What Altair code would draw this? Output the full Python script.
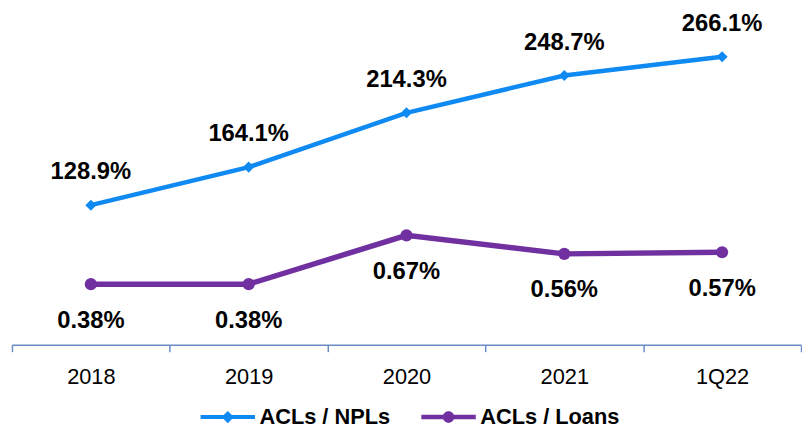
import altair as alt
import pandas as pd

categories = ["2018", "2019", "2020", "2021", "1Q22"]
npl_values = [128.9, 164.1, 214.3, 248.7, 266.1]
loan_values = [0.38, 0.38, 0.67, 0.56, 0.57]
series_names = ["ACLs / NPLs", "ACLs / Loans"]
series_colors = ["#0F8AF2", "#7030A0"]

df = pd.DataFrame({
    "period": categories * 2,
    "series": [series_names[0]] * len(categories) + [series_names[1]] * len(categories),
    "value": npl_values + loan_values,
})

FONT = "Liberation Sans, Arial"

DIAMOND_GLYPH = "M-4,-0.29H4V0.29H-4Z M0,-0.9L0.9,0L0,0.9L-0.9,0Z"
CIRCLE_GLYPH = "M-4,-0.33H4V0.33H-4Z M-0.85,0A0.85,0.85 0 1,1 0.85,0A0.85,0.85 0 1,1 -0.85,0Z"

x_enc = alt.X("period:N", sort=categories, bandPosition=0.5,
              scale=alt.Scale(type="band", paddingInner=0, paddingOuter=0),
              axis=alt.Axis(title=None, tickBand="extent", labelAngle=0,
                            domainColor="#6B8CC6", tickColor="#6B8CC6",
                            domainWidth=1.5, tickWidth=1.5, tickSize=7,
                            labelFontSize=22, labelFont=FONT, labelColor="#000000",
                            labelPadding=15, grid=False))

legend = alt.Legend(
    title=None, orient="none", direction="horizontal", legendX=207, legendY=390,
    labelFont=FONT, labelFontSize=22, labelFontWeight="bold",
    labelColor="#000000", symbolSize=189, symbolStrokeWidth=0,
    symbolOpacity=1, columnPadding=30, labelOffset=21, padding=0)


def series_layer(name, color, domain, shape, size, width, fmt, dy):
    base = alt.Chart(df).transform_filter(alt.datum.series == name).encode(
        x=x_enc,
        y=alt.Y("value:Q", scale=alt.Scale(domain=domain, nice=False, zero=False), axis=None),
    )
    line = base.mark_line(color=color, strokeWidth=width)
    pts = base.mark_point(filled=True, shape=shape, size=size, opacity=1, color=color)
    txt = base.transform_calculate(
        label=f"format(datum.value, '{fmt}') + '%'"
    ).mark_text(font=FONT, fontSize=24, fontWeight="bold", color="#000000",
                baseline="middle", dy=dy).encode(text="label:N")
    return alt.layer(line, pts, txt)


npl_layer = series_layer(series_names[0], series_colors[0], [0, 300], "diamond", 125, 4.5, ".1f", -33)
loan_layer = series_layer(series_names[1], series_colors[1], [0.02, 1.95], "circle", 150, 5.5, ".2f", 37)

legend_layer = alt.Chart(df).mark_point(filled=True, opacity=0).encode(
    x=x_enc,
    color=alt.Color("series:N", scale=alt.Scale(domain=series_names, range=series_colors),
                    legend=legend),
    shape=alt.Shape("series:N", scale=alt.Scale(domain=series_names,
                                                range=[DIAMOND_GLYPH, CIRCLE_GLYPH]),
                    legend=legend),
)

chart = alt.layer(npl_layer, loan_layer, legend_layer).resolve_scale(y="independent").properties(
    width=797, height=328,
    padding={"left": 3, "top": 2, "right": 0, "bottom": 0},
    background="#ffffff",
).configure_view(stroke=None)

chart.save("out.html", embed_options={"renderer": "svg", "actions": False})
